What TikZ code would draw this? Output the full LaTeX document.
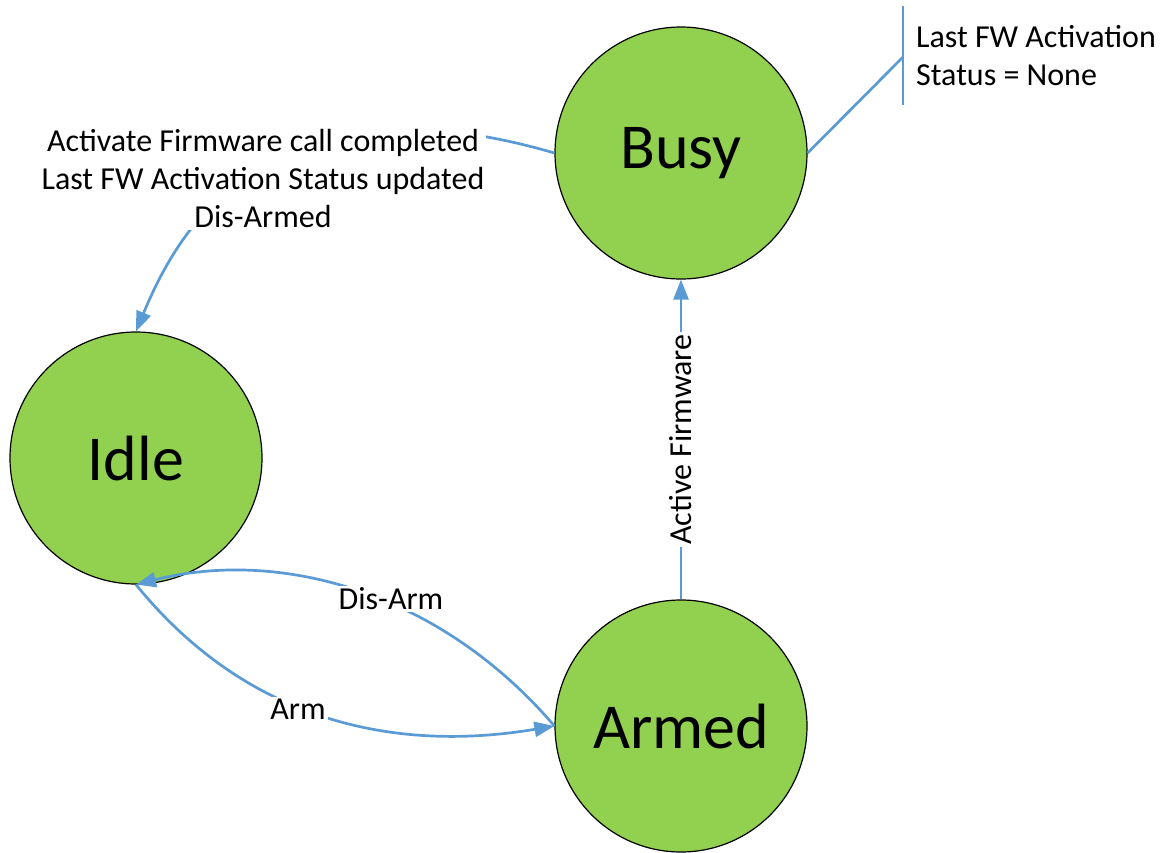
\documentclass[tikz,border=0pt]{standalone}
\usepackage{fontspec}
\setmainfont{Carlito}
\usetikzlibrary{arrows.meta}
\definecolor{stgreen}{HTML}{92D050}
\definecolor{cblue}{HTML}{5B9BD5}
\begin{document}
\begin{tikzpicture}[x=1pt,y=-1pt,
  state/.style={circle,draw=black,line width=1.2pt,fill=stgreen,minimum size=252pt,inner sep=0pt,font=\fontsize{64}{70}\selectfont},
  conn/.style={draw=cblue,line width=2.7pt,-{Triangle[length=20pt,width=15pt]}},
  plainline/.style={draw=cblue,line width=2.7pt},
  lbl/.style={fill=white,inner sep=2pt,font=\fontsize{32}{38}\selectfont,align=center}]
\useasboundingbox (0,0) rectangle (1160,852);
\node[state] (busy) at (681,153) {Busy};
\node[state] (idle) at (136,458) {Idle};
\node[state] (armed) at (681,726) {Armed};
% Busy -> Idle
\draw[conn] (busy.west) .. controls (267,69) and (178,230) .. (idle.north);
\node[lbl] (l1) at (263,179) {Activate Firmware call completed\\Last FW Activation Status updated\\Dis-Armed};
% annotation
\coordinate (bartop) at (903,6);
\coordinate (barbot) at (903,105);
\coordinate (barmid) at (903,57);
\draw[plainline] (bartop) -- (barbot);
\draw[plainline] (busy.east) -- (barmid);
\node[lbl,anchor=west,align=left] (note) at (914,56) {Last FW Activation\\Status = None};
% Armed -> Busy
\draw[conn] (armed.north) -- (busy.south) node[lbl,pos=0.5,rotate=90] (l2) {Active Firmware};
% Idle -> Armed
\draw[conn] (idle.south) .. controls (250,725) and (400,752) .. (armed.west);
\node[lbl] (l3) at (298,709) {Arm};
% Armed -> Idle
\draw[conn] (armed.west) .. controls (440,592) and (280,548) .. (idle.south);
\node[lbl] (l4) at (391,599) {Dis-Arm};
\end{tikzpicture}
\end{document}
